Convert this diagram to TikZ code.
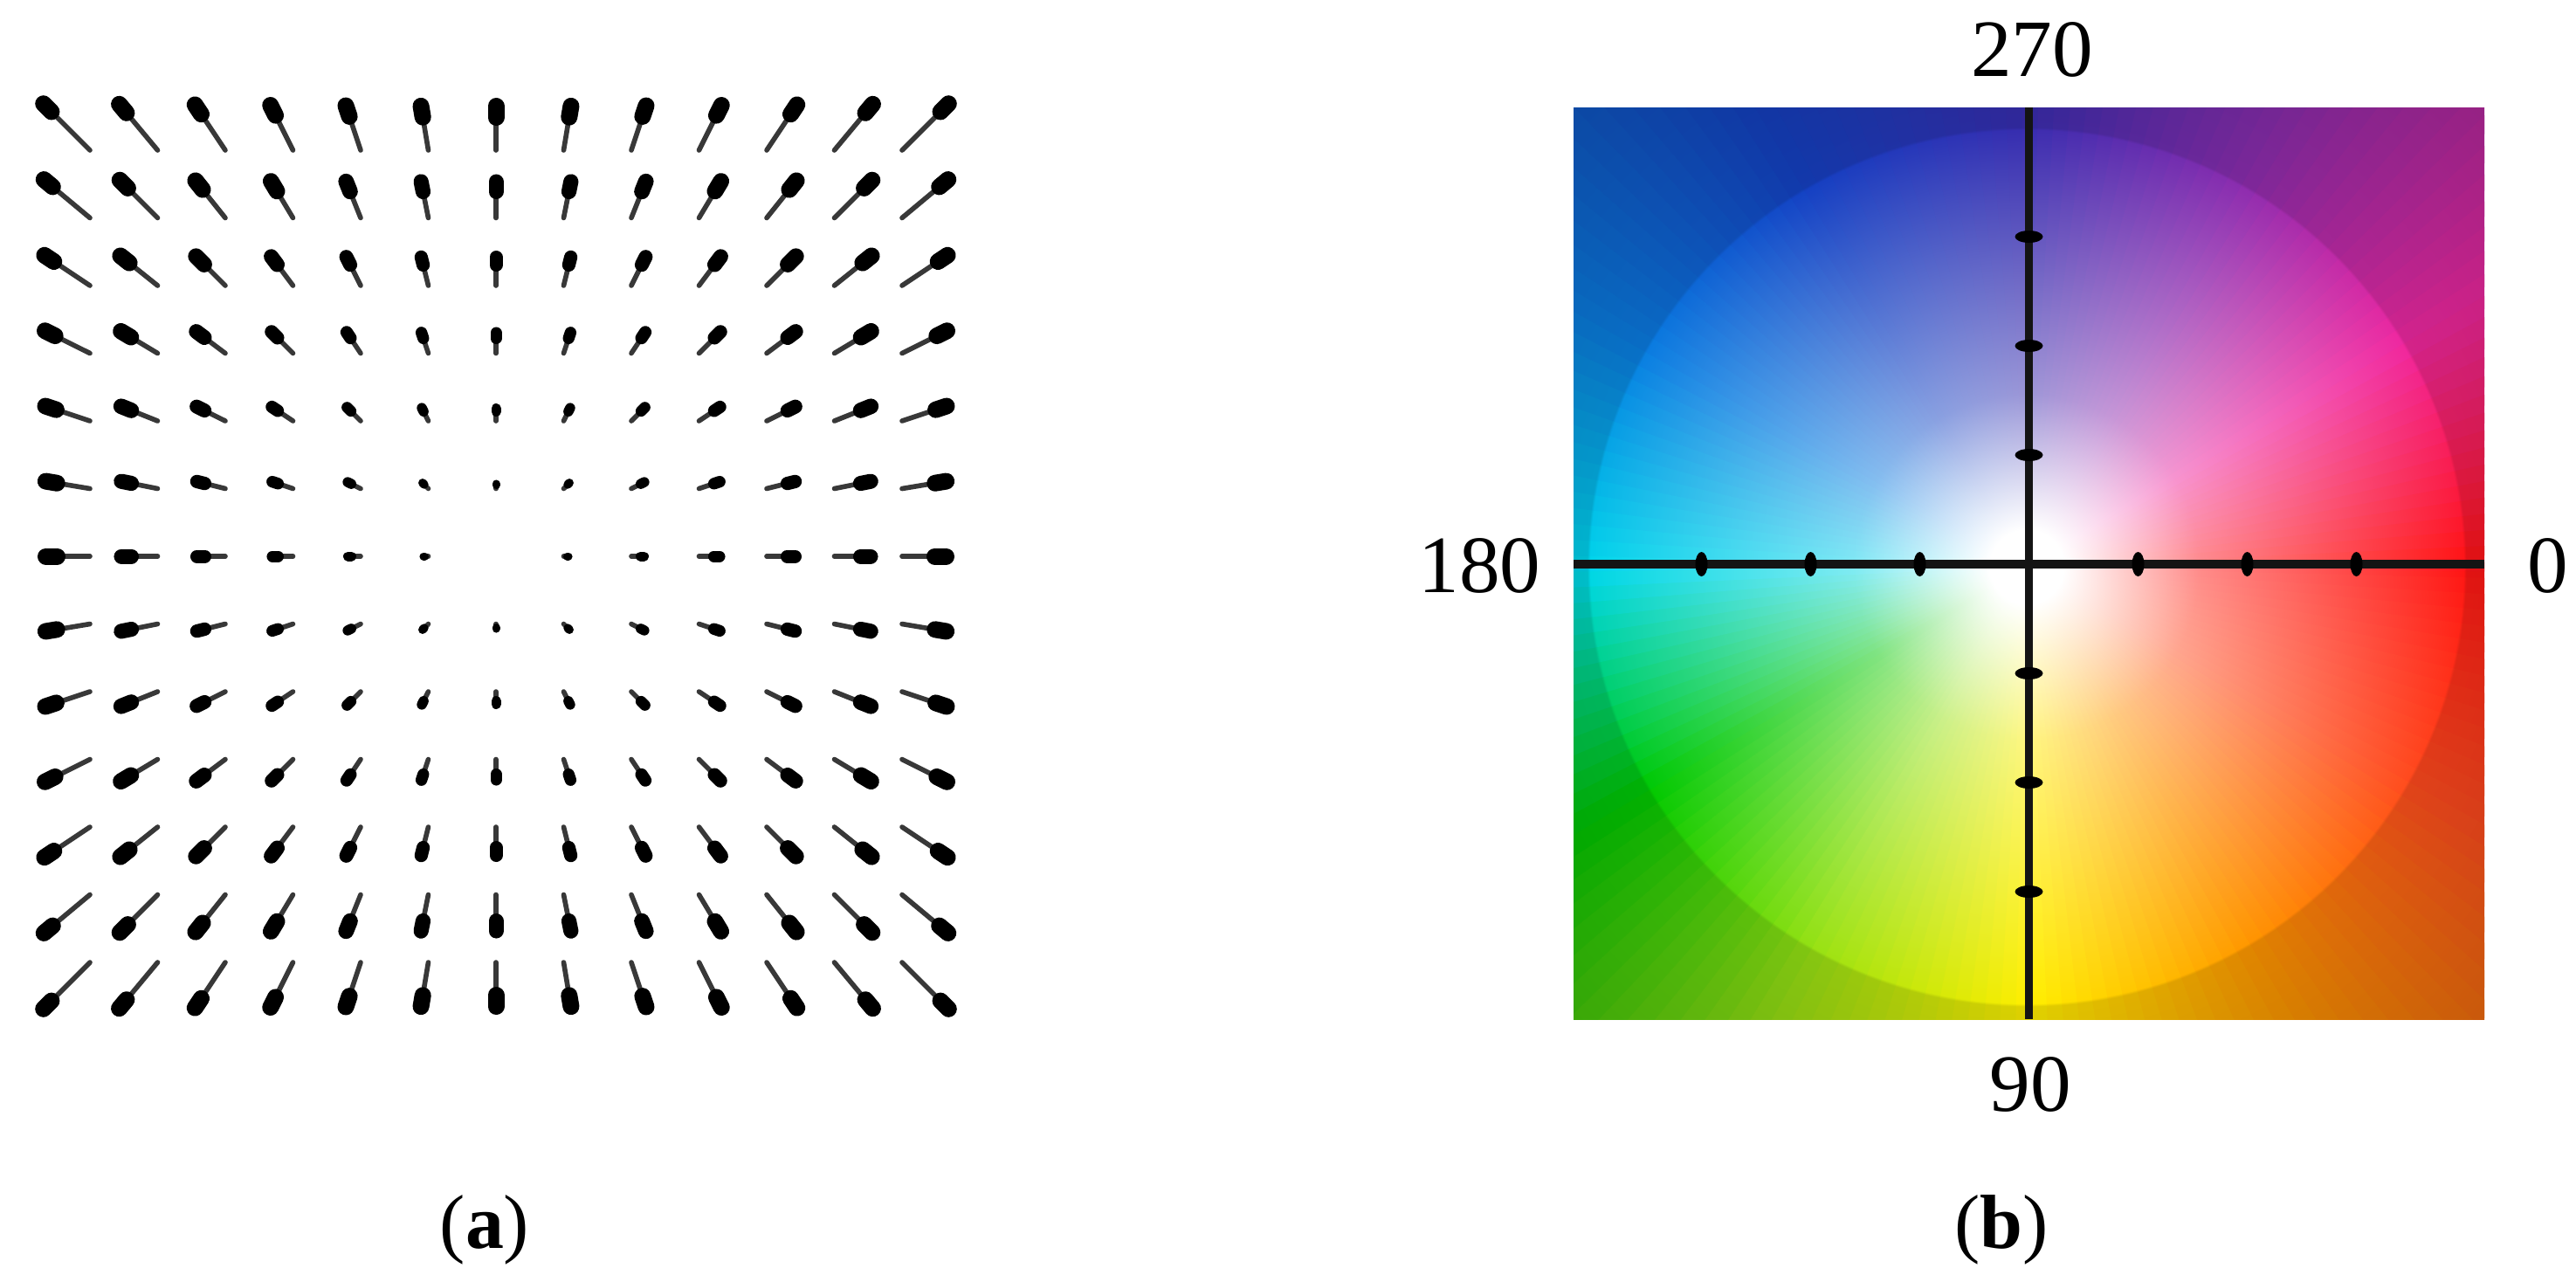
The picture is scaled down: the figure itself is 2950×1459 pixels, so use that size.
\documentclass[tikz,border=0pt]{standalone}
\usepackage{fontspec}
\setmainfont{Liberation Serif}
\usetikzlibrary{calc}

\definecolor{k0}{RGB}{255,20,20}
\definecolor{k1}{RGB}{255,75,30}
\definecolor{k2}{RGB}{255,150,0}
\definecolor{k3}{RGB}{255,238,0}
\definecolor{k4}{RGB}{150,225,20}
\definecolor{k5}{RGB}{0,200,0}
\definecolor{k6}{RGB}{0,215,235}
\definecolor{k7}{RGB}{10,125,225}
\definecolor{k8}{RGB}{20,65,195}
\definecolor{k9}{RGB}{55,45,175}
\definecolor{k10}{RGB}{140,45,175}
\definecolor{k11}{RGB}{240,40,160}
\definecolor{k12}{RGB}{255,20,20}
\colorlet{wheelhue}{red}

% absolute-size radial shading: 1 px of the reference = 0.01cm = 0.28346bp
\pgfdeclareradialshading[wheelhue]{wheel}{\pgfpoint{0bp}{0bp}}{%
  color(0bp)=(white); color(12bp)=(white); color(56bp)=(wheelhue!50!white);
  color(141.7bp)=(wheelhue); color(142.6bp)=(wheelhue!88!black);
  color(215bp)=(wheelhue!78!black)}

\tikzset{
  lbl/.style={inner sep=0pt, font=\fontsize{26.5}{30}\selectfont},
  captxt/.style={inner sep=0pt, font=\fontsize{25}{30}\selectfont},
  axisline/.style={line width=2.6pt, black!92},
  tailline/.style={line width=1.6pt, black!78, line cap=round},
}

\begin{document}
\begin{tikzpicture}[x=0.01cm, y=-0.01cm]
\useasboundingbox (0,0) rectangle (2950,1459);

% ---------- (a) vector field ----------
\foreach \i in {-6,...,6}{
  \foreach \j in {-6,...,6}{
    \pgfmathsetmacro{\rr}{veclen(\i,\j)}
    \ifdim\rr pt>0.1pt
      \pgfmathsetmacro{\ang}{atan2(\j,\i)}
      \pgfmathsetmacro{\LL}{10*\rr}
      \pgfmathsetmacro{\ww}{min(19,7+0.2*\LL)}
      \pgfmathsetmacro{\bl}{min(32,0.45*\LL+6)}
      \pgfmathsetmacro{\sone}{\LL/2-\ww/2}
      \pgfmathsetmacro{\szero}{min(\LL/2-\bl+\ww/2,\sone-0.5)}
      \pgfmathsetmacro{\lw}{\ww*0.2845}
      \coordinate (g) at (568+82.5*\i, 637+82.5*\j);
      \draw[tailline] ($(g)+(\ang+180:\LL/2)$) -- ($(g)+(\ang:\LL/2-3)$);
      \draw[line width=\lw pt, line cap=round, black]
        ($(g)+(\ang:\szero)$) -- ($(g)+(\ang:\sone)$);
    \fi
  }
}

% ---------- (b) colour wheel ----------
\coordinate (C) at (2323.5,646);
\coordinate (W) at (2321,649);
\coordinate (sqNW) at (1802,123);
\coordinate (sqSE) at (2845,1167);
\begin{scope}
  \clip (sqNW) rectangle (sqSE);
  \foreach \t in {0,2,...,358}{
    \pgfmathsetmacro{\tm}{\t+1}
    \pgfmathtruncatemacro{\idx}{floor(\tm/30)}
    \pgfmathtruncatemacro{\nidx}{\idx+1}
    \pgfmathsetmacro{\pct}{(\tm-30*\idx)/30*100}
    \begin{scope}
      \colorlet{wheelhue}{k\nidx!\pct!k\idx}
      \clip (W) -- +(\t-0.6:820) -- +(\t+2.6:820) -- cycle;
      \node[inner sep=0pt, outer sep=0pt] (wh\t) at (W) {\pgfuseshading{wheel}};
    \end{scope}
  }
\end{scope}

% axes
\coordinate (axL) at (1802,646);
\coordinate (axR) at (2845,646);
\coordinate (axT) at (2323.5,123);
\coordinate (axB) at (2323.5,1167);
\draw[axisline] (axL) -- (axR);
\draw[axisline] (axT) -- (axB);
\foreach \d in {-375,-250,-125,125,250,375}{
  \fill[black] ($(C)+(\d,0)$) ellipse [x radius=7, y radius=14];
  \fill[black] ($(C)+(0,\d)$) ellipse [x radius=16, y radius=7];
}

% labels
\node[lbl] (l270) at (2327,57) {270};
\node[lbl] (l90) at (2325,1242) {90};
\node[lbl, anchor=east] (l180) at (1765,648) {180};
\node[lbl, anchor=west] (l0) at (2894,648) {0};

\node[captxt] (capa) at (555,1408) {(\textbf{a})};
\node[captxt] (capb) at (2292,1408) {(\textbf{b})};
\end{tikzpicture}
\end{document}
